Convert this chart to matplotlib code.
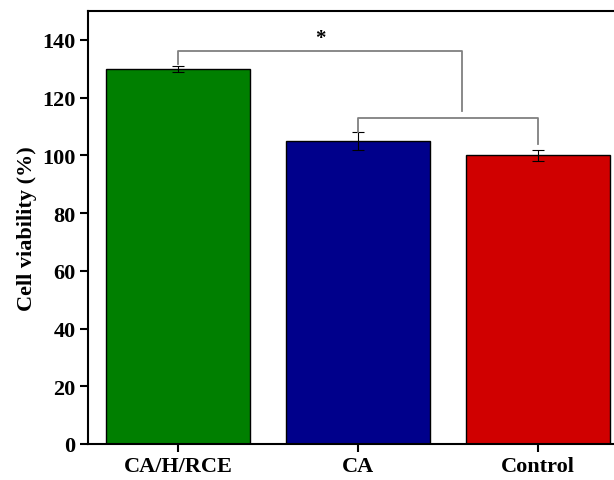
import matplotlib
matplotlib.use("Agg")
import matplotlib.pyplot as plt

categories = ["CA/H/RCE", "CA", "Control"]
values = [130, 105, 100]
errors = [1.0, 3.0, 2.0]
colors = ["#007f00", "#00008b", "#d00000"]

plt.rcParams['font.family'] = ['Liberation Serif', 'DejaVu Serif']
plt.rcParams['font.weight'] = 'bold'

fig = plt.figure(figsize=(6.14, 4.81), dpi=100)
ax = fig.add_axes([88/614, 36/481, 540/614, 433/481])

x = list(range(len(categories)))
ax.bar(x, values, width=0.8, color=colors, edgecolor='black', linewidth=1.0)
ax.errorbar(x, values, yerr=errors, fmt='none', ecolor='black', elinewidth=0.8,
            capsize=4, capthick=0.8)

ax.set_xlim(-0.5, 2.5)
ax.set_ylim(0, 150)
ax.set_yticks([0, 20, 40, 60, 80, 100, 120, 140])
ax.set_xticks(x)
ax.set_xticklabels(categories, fontsize=16, fontweight='bold')
ax.set_ylabel("Cell viability (%)", fontsize=16, fontweight='bold', labelpad=4)
for lab in ax.get_yticklabels():
    lab.set_fontsize(16)
    lab.set_fontweight('bold')
ax.tick_params(axis='both', direction='out', length=6, width=1.5, pad=3)
for s in ax.spines.values():
    s.set_linewidth(1.5)

gray = '#808080'
# bracket 1
ax.plot([0, 0, 1.58, 1.58], [131.7, 136.2, 136.2, 115.4], color=gray, lw=1.3)
# bracket 2
ax.plot([1, 1, 2, 2], [108.2, 113.0, 113.0, 104.0], color=gray, lw=1.3)
ax.text(0.79, 140.5, "*", ha='center', va='center', fontsize=15, fontweight='bold')

fig.savefig("out.png", dpi=100)
